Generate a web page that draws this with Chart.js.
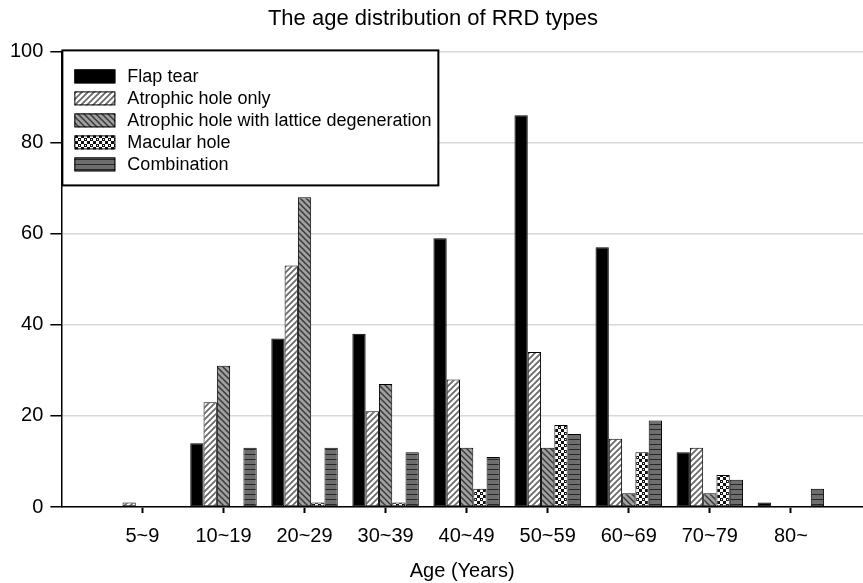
<!DOCTYPE html>
<html>
<head>
<meta charset="utf-8">
<script src="https://cdn.jsdelivr.net/npm/chart.js@4/dist/chart.umd.min.js"></script>
<style>
  html, body { margin: 0; padding: 0; background: #fff; }
  #wrap { width: 863px; height: 583px; }
</style>
</head>
<body>
<div id="wrap"><canvas id="rrdChart" width="863" height="583"></canvas></div>
<script>
// age groups on the x axis
const ageGroups = ["5~9", "10~19", "20~29", "30~39", "40~49", "50~59", "60~69", "70~79", "80~"];

// counts per RRD type
const flapTear        = [0, 14, 37, 38, 59, 86, 57, 12, 1];
const atrophicOnly    = [1, 23, 53, 21, 28, 34, 15, 13, 0];
const atrophicLattice = [0, 31, 68, 27, 13, 13, 3, 3, 0];
const macularHole     = [0, 0, 1, 1, 4, 18, 12, 7, 0];
const combination     = [0, 13, 13, 12, 11, 16, 19, 6, 4];

const typeNames = ["Flap tear", "Atrophic hole only", "Atrophic hole with lattice degeneration", "Macular hole", "Combination"];
const yTicks = [0, 20, 40, 60, 80, 100];

function makeTile(w, h, draw) {
    var c = document.createElement("canvas");
    c.width = w; c.height = h;
    var g = c.getContext("2d");
    draw(g, w, h);
    return document.getElementById("rrdChart").getContext("2d").createPattern(c, "repeat");
}

// hatched fills, roughly like the print
var pAtrophic = makeTile(6, 6, function(g, w, h){
    g.fillStyle = "#fff"; g.fillRect(0, 0, w, h);
    g.strokeStyle = "#6a6a6a"; g.lineWidth = 1.8;
    g.beginPath();
    g.moveTo(-1, 7); g.lineTo(7, -1);
    g.moveTo(-4, 4); g.lineTo(4, -4);
    g.moveTo(2, 10); g.lineTo(10, 2);
    g.stroke();
});
var pLattice = makeTile(6, 6, function(g, w, h){
    g.fillStyle = "#a0a0a0"; g.fillRect(0, 0, w, h);
    g.strokeStyle = "#3a3a3a"; g.lineWidth = 1.5;
    g.beginPath();
    g.moveTo(-1, -1); g.lineTo(7, 7);
    g.moveTo(-4, 2); g.lineTo(4, 10);
    g.moveTo(2, -4); g.lineTo(10, 4);
    g.stroke();
});
var pMacular = makeTile(6, 6, function(g, w, h){
    g.fillStyle = "#fff"; g.fillRect(0, 0, w, h);
    g.fillStyle = "#111";
    g.fillRect(0, 0, 3, 3);
    g.fillRect(3, 3, 3, 3);
    g.fillStyle = "#fff";
    g.fillRect(1, 1, 1, 1);
});
var pCombo = makeTile(4, 5, function(g, w, h){
    g.fillStyle = "#6e6e6e"; g.fillRect(0, 0, w, h);
    g.fillStyle = "#262626"; g.fillRect(0, 4, w, 1);
});

const fills = ["#000", pAtrophic, pLattice, pMacular, pCombo];
const series = [flapTear, atrophicOnly, atrophicLattice, macularHole, combination];

var datasets = [];
for (var i = 0; i < series.length; i++) {
    datasets.push({
        label: typeNames[i],
        data: series[i].map(function(v, k){ return { x: k, y: v }; }),
        backgroundColor: fills[i],
        borderColor: "#000",
        borderWidth: function(ctx){ return ctx.raw && ctx.raw.y > 0 ? 1 : 0; },
        borderSkipped: false,
        categoryPercentage: 0.82,
        barPercentage: 1.0
    });
}

// legend box drawn inside the plot, top left
const boxLegend = {
    id: "boxLegend",
    afterDraw(chart) {
        const ctx = chart.ctx;
        const a = chart.chartArea;
        const x0 = a.left + 1, y0 = a.top - 1, w = 376, h = 135;
        ctx.save();
        ctx.fillStyle = "#fff";
        ctx.fillRect(x0, y0, w, h);
        ctx.strokeStyle = "#000";
        ctx.lineWidth = 2;
        ctx.strokeRect(x0, y0, w, h);
        ctx.font = "18px 'Liberation Sans', Arial, sans-serif";
        ctx.textBaseline = "middle";
        chart.data.datasets.forEach(function(ds, i){
            const cy = y0 + 26 + i * 22;
            ctx.fillStyle = ds.backgroundColor;
            ctx.fillRect(x0 + 12, cy - 7, 41, 14);
            ctx.lineWidth = 1;
            ctx.strokeStyle = "#000";
            ctx.strokeRect(x0 + 12.5, cy - 6.5, 40, 13);
            ctx.fillStyle = "#000";
            ctx.fillText(ds.label, x0 + 65, cy + 1);
        });
        ctx.restore();
    }
};

Chart.defaults.font.family = "'Liberation Sans', Arial, sans-serif";
Chart.defaults.color = "#000";

new Chart(document.getElementById("rrdChart"), {
    type: "bar",
    data: { datasets: datasets },
    options: {
        responsive: false,
        animation: false,
        layout: { padding: { left: 3, right: 0, top: 0, bottom: 0 } },
        plugins: {
            legend: { display: false },
            tooltip: { enabled: false },
            title: {
                display: true,
                text: "The age distribution of RRD types",
                font: { size: 22, weight: "normal" },
                color: "#000",
                padding: { top: 6, bottom: 19 }
            }
        },
        scales: {
            x: {
                type: "linear",
                offset: false,
                min: -1,
                max: 8.89,
                afterBuildTicks: function(axis){
                    axis.ticks = ageGroups.map(function(_, k){ return { value: k }; });
                },
                ticks: {
                    font: { size: 20 },
                    color: "#000",
                    padding: 11,
                    maxRotation: 0,
                    callback: function(v){ return ageGroups[v]; }
                },
                grid: { offset: false, drawOnChartArea: false, drawTicks: true, tickLength: 6, tickColor: "#000", tickWidth: 2 },
                border: { display: true, color: "#000", width: 1.5 },
                title: {
                    display: true,
                    text: "Age (Years)",
                    font: { size: 20 },
                    color: "#000",
                    padding: { top: 0, bottom: 0 }
                }
            },
            y: {
                min: 0,
                max: 100,
                afterBuildTicks: function(axis){
                    axis.ticks = yTicks.map(function(v){ return { value: v }; });
                },
                ticks: { font: { size: 20 }, color: "#000", padding: 7 },
                grid: { color: "#d8d8d8", lineWidth: 1.5, tickLength: 11, tickColor: "#000", tickWidth: 1.5 },
                border: { display: true, color: "#000", width: 1.5 }
            }
        }
    },
    plugins: [boxLegend]
});
</script>
</body>
</html>
